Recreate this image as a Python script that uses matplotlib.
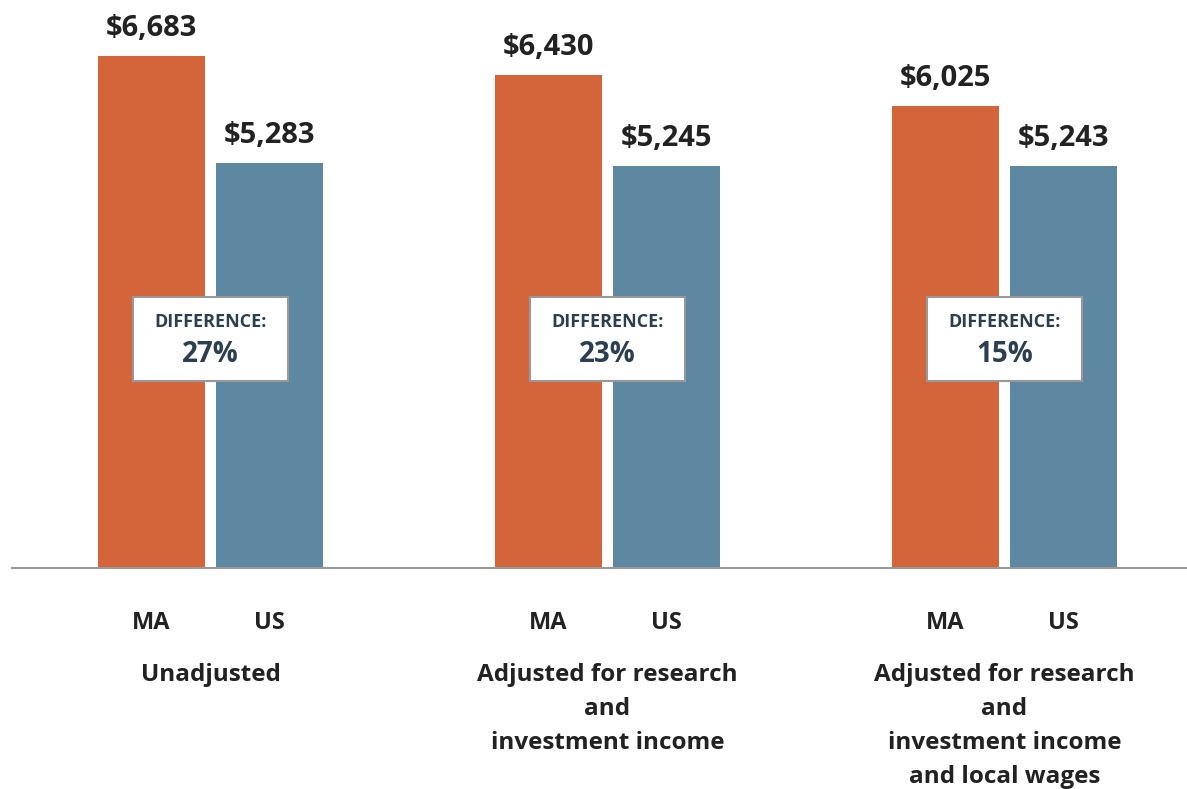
import numpy as np
import matplotlib
matplotlib.use("Agg")
import matplotlib.pyplot as plt
from matplotlib.patches import Rectangle

plt.rcParams['font.family'] = ['Open Sans', 'DejaVu Sans']

# data
groups = ["Unadjusted",
          "Adjusted for research\nand\ninvestment income",
          "Adjusted for research\nand\ninvestment income\nand local wages"]
ma_vals = [6683, 6430, 6025]
us_vals = [5283, 5245, 5243]
diff_labels = ["27%", "23%", "15%"]
series_names = ["MA", "US"]

orange = "#D4653B"
blue = "#5E87A1"
dark = "#2B3F50"

fig = plt.figure(figsize=(11.87, 7.89), dpi=100)
# axes spans from the baseline (px 568) up to the top edge
ax = fig.add_axes([12/1187, 1 - 568/789, 1 - 12/1187, 568/789])

x = np.arange(len(groups))
w = 0.27
off = 0.1486
ax.bar(x - off, ma_vals, width=w, color=orange)
ax.bar(x + off, us_vals, width=w, color=blue)

ax.set_xlim(-0.5, 2.46)
ax.set_ylim(0, 7414)

for s in ["top", "right", "left"]:
    ax.spines[s].set_visible(False)
ax.spines["bottom"].set_color("#999999")
ax.spines["bottom"].set_linewidth(1.5)
ax.set_yticks([])
ax.set_xticks([])

for i in range(len(groups)):
    ax.text(x[i] - off, ma_vals[i] + 365, "${:,}".format(ma_vals[i]), ha="center", va="center",
            fontsize=21, fontweight="bold", color="#222222")
    ax.text(x[i] + off, us_vals[i] + 365, "${:,}".format(us_vals[i]), ha="center", va="center",
            fontsize=21, fontweight="bold", color="#222222")

    # difference box
    bw = 0.39
    ax.add_patch(Rectangle((x[i] - bw/2, 2441), bw, 1097, facecolor="white",
                           edgecolor="#999999", linewidth=1.5, zorder=3))
    ax.text(x[i], 3215, "DIFFERENCE:", ha="center", va="center", fontsize=13,
            fontweight="bold", color=dark, zorder=4)
    ax.text(x[i], 2790, diff_labels[i], ha="center", va="center", fontsize=20,
            fontweight="bold", color=dark, zorder=4)

    # series labels and group labels below the baseline
    ax.text(x[i] - off, -720, series_names[0], ha="center", va="center", fontsize=17,
            fontweight="bold", color="#222222", clip_on=False)
    ax.text(x[i] + off, -720, series_names[1], ha="center", va="center", fontsize=17,
            fontweight="bold", color="#222222", clip_on=False)
    ax.text(x[i], -1240, groups[i], ha="center", va="top", fontsize=17.5,
            fontweight="bold", color="#222222", linespacing=1.55, clip_on=False)

fig.savefig("out.png", dpi=100)
